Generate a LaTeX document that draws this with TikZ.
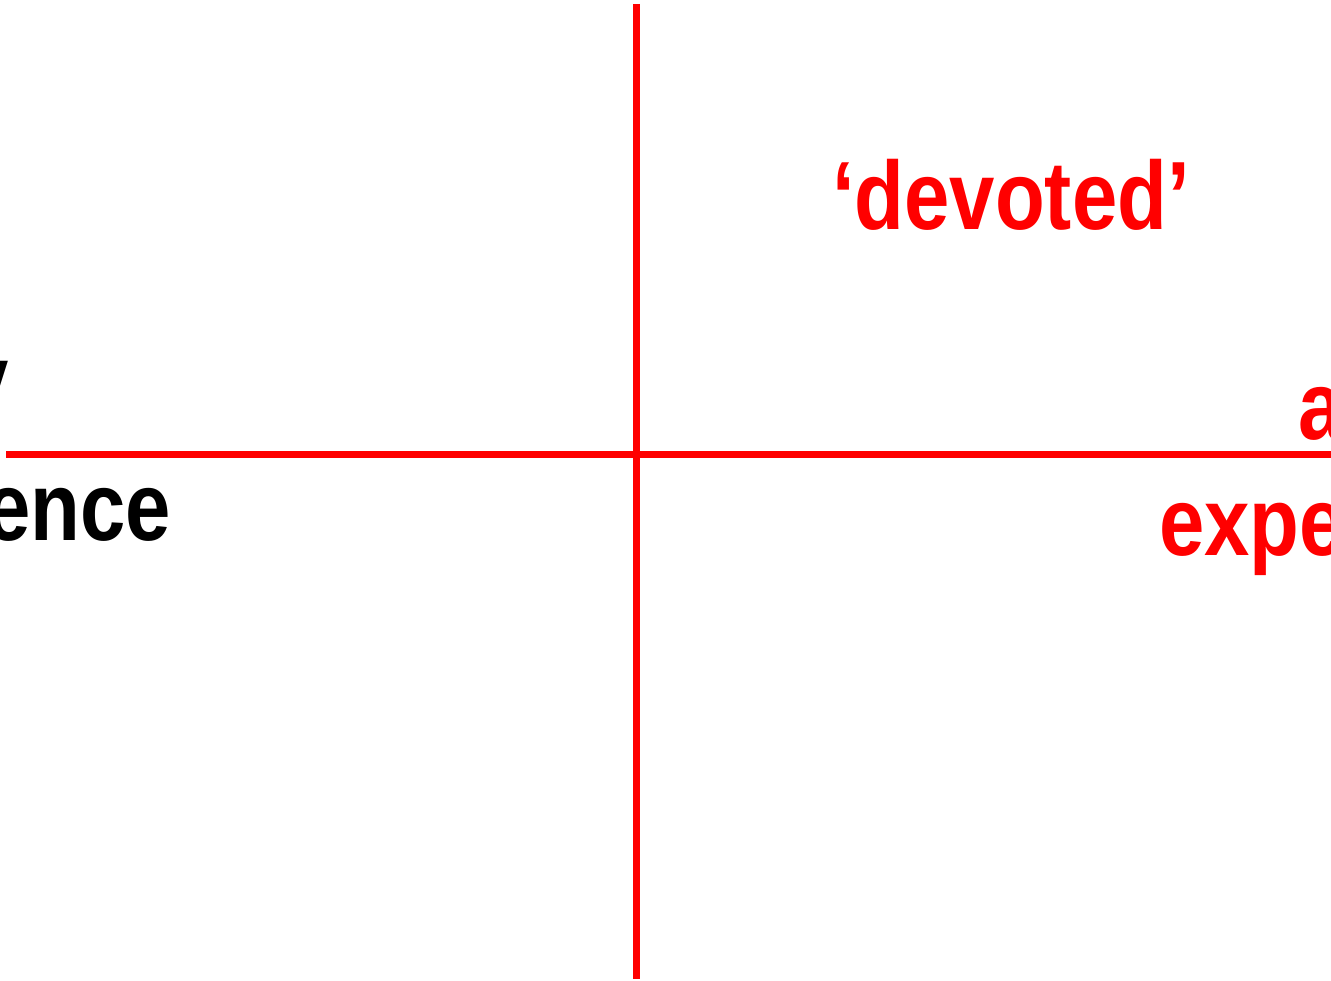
\documentclass[tikz,border=0pt]{standalone}
\usepackage{fontspec}
\setmainfont{Liberation Sans}[FakeStretch=0.84]
\definecolor{axisred}{RGB}{255,0,0}
\begin{document}
\begin{tikzpicture}[x=1pt,y=-1pt,
  lbl/.style={inner sep=0pt,font=\fontsize{97}{97}\selectfont\bfseries},
  axis/.style={draw=axisred,line width=7pt}]
\useasboundingbox (0,0) rectangle (1331,981);
\clip (0,0) rectangle (1331,981);
\coordinate (vt) at (636,4);
\coordinate (vb) at (636,979);
\coordinate (hl) at (6,454.5);
\coordinate (hr) at (1335,454.5);
\draw[axis] (vt) -- (vb);
\draw[axis] (hl) -- (hr);
\node[lbl,text=axisred,anchor=base] (dev) at (1011,230) {‘devoted’};
\node[lbl,text=black,anchor=base east] (ence) at (171,540) {ence};
\node[lbl,text=black,anchor=base east] (yy) at (9,413) {y};
\node[lbl,text=axisred,anchor=base west] (aa) at (1298,440) {a};
\node[lbl,text=axisred,anchor=base west] (expe) at (1159,555) {expe};
\end{tikzpicture}
\end{document}
